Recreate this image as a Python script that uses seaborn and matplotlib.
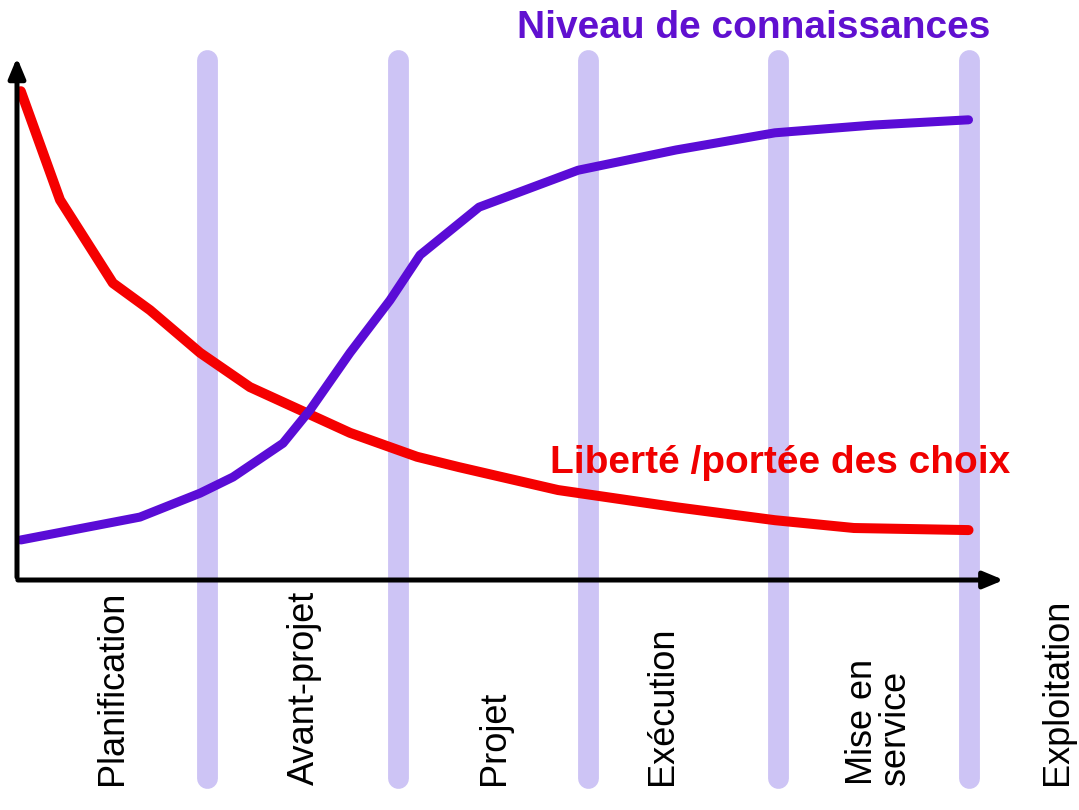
import numpy as np
import pandas as pd
import seaborn as sns
import matplotlib.pyplot as plt

# phases of the project (label, x position of label)
phases = ['Planification', 'Avant-projet', 'Projet', 'Exécution', 'Mise en\nservice', 'Exploitation']
phase_x = [0.5, 1.51, 2.51, 3.39, 4.53, 5.47]
band_x = [1, 2, 3, 4, 5]

# Liberté / portée des choix
libre_x = [0.02, 0.226, 0.504, 0.699, 0.962, 1.224, 1.487, 1.75, 2.102, 2.323, 2.843, 3.463, 3.983, 4.398, 5.0]
libre_y = [94.0, 73.1, 57.1, 51.9, 43.7, 37.1, 32.7, 28.3, 23.7, 21.7, 17.3, 14.0, 11.5, 10.0, 9.6]

# Niveau de connaissances
conn_x = [0.02, 0.646, 0.962, 1.135, 1.398, 1.54, 1.75, 1.96, 2.118, 2.428, 2.948, 3.463, 3.983, 4.503, 5.0]
conn_y = [7.7, 12.1, 16.7, 19.8, 26.3, 32.7, 43.7, 53.8, 62.5, 71.7, 78.8, 82.7, 86.0, 87.5, 88.5]

sns.set_style('white')
plt.rcParams['font.family'] = ['Liberation Sans', 'DejaVu Sans']

fig = plt.figure(figsize=(10.79, 8.10), dpi=100)
ax = fig.add_axes([0, 0, 1, 1])
ax.set_xlim(-0.0893, 5.5806)
ax.set_ylim(-44.23, 111.54)
ax.axis('off')

# vertical phase bands
for bx in band_x:
    ax.plot([bx, bx], [-38, 100], color='#cdc4f5', lw=15, solid_capstyle='round', zorder=1)

# curves
sns.lineplot(x=libre_x, y=libre_y, ax=ax, color='#f50000', lw=7.2, zorder=3,
             solid_joinstyle='round', solid_capstyle='round')
sns.lineplot(x=conn_x, y=conn_y, ax=ax, color='#5a0cd6', lw=6.5, zorder=3,
             solid_joinstyle='round', solid_capstyle='round')

# axes with arrows
ax.annotate('', xy=(0, 101), xytext=(0, 0),
            arrowprops=dict(arrowstyle='-|>,head_length=1.2,head_width=0.5', lw=3.6, color='black'), zorder=4)
ax.annotate('', xy=(5.2, 0), xytext=(-0.01, 0),
            arrowprops=dict(arrowstyle='-|>,head_length=1.2,head_width=0.5', lw=3.6, color='black'), zorder=4)

# phase labels
for name, px in zip(phases, phase_x):
    ax.text(px, -39.4, name, rotation=90, ha='center', va='bottom',
            multialignment='left', fontsize=26, linespacing=0.95, color='black')

ax.text(3.87, 106.2, 'Niveau de connaissances', ha='center', va='center',
        fontsize=28, fontweight='bold', color='#6010d0')
ax.text(4.01, 22.5, 'Liberté /portée des choix', ha='center', va='center',
        fontsize=28, fontweight='bold', color='#f00000')

fig.savefig('out.png', dpi=100)
